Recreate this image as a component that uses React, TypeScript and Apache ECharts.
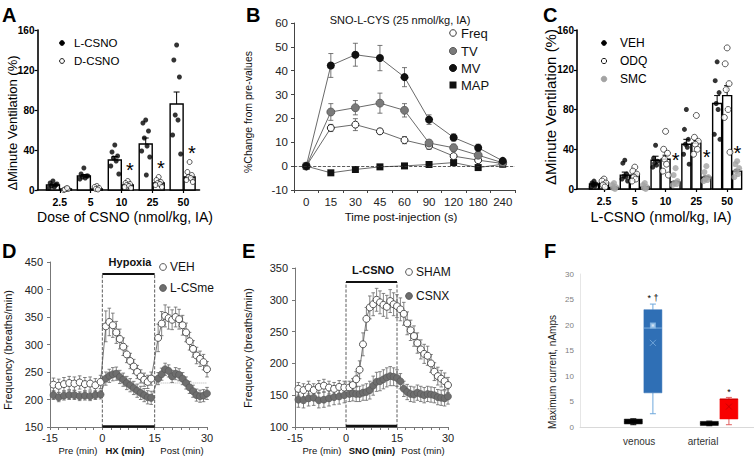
import React, { useEffect, useRef } from 'react';
import * as echarts from 'echarts';

const FONT = '"Liberation Sans", Arial, Helvetica, sans-serif';

// ---------- Panel A ----------
const doseLabels = ['2.5', '5', '10', '25', '50'];
const aLMean = [5, 14, 30, 46, 86];
const aLErr = [1, 1.5, 3.5, 6, 12];
const aDMean = [1, 1, 5, 7, 13];
const aDErr = [0.3, 0.5, 1, 1.2, 2];
const aLPts = [
  [9, 7, 5, 4, 3, 2, 6],
  [22, 16, 14, 13, 12, 11, 14],
  [45, 38, 34, 32, 29, 24, 16],
  [70, 67, 59, 52, 44, 39, 33, 15],
  [145, 130, 113, 75, 70, 55, 36],
];
const aDPts = [
  [1, 0, 1, 0.5, 2],
  [4, 3, 2, 1, 0.5],
  [9, 7, 6, 5, 4, 3, 2],
  [13, 10, 8, 7, 6, 5, 3],
  [28, 18, 15, 13, 12, 10, 8],
];
const aStar = [null, null, 25, 27, 42];

// ---------- Panel B ----------
const bTimes = ['0', '15', '30', '45', '60', '90', '120', '180', '240'];
const bFreq = [0, 16, 17.4, 14.6, 10.9, 8.5, 4.2, 2.5, 1.1];
const bFreqErr = [0, 1.5, 2.5, 1, 1.5, 1.5, 1, 0.5, 0.5];
const bTV = [0, 22.7, 24.5, 26.4, 23.4, 9.7, 7.7, 4.6, 1.4];
const bTVErr = [0, 3.5, 3, 4.2, 2.8, 1, 1.5, 1, 0.5];
const bMV = [0, 42.2, 46.7, 45.3, 37.3, 19.5, 12, 7.7, 2.2];
const bMVErr = [0, 5, 4.8, 5.3, 4, 2, 1.5, 1.5, 1];
const bMAP = [0, -2.8, -1.4, -0.3, 0.1, 0.7, 1.5, -0.6, 0.8];

// ---------- Panel C ----------
const cVehMean = [5, 14, 29, 45, 86];
const cVehErr = [1, 3, 4, 5, 8];
const cOdqMean = [6, 14, 30, 46, 94];
const cOdqErr = [1.5, 2, 4, 3, 10];
const cSmcMean = [1.5, 2, 7, 12, 18];
const cSmcErr = [0.5, 0.5, 1, 1, 1.5];
const cVehPts = [
  [8, 6, 5, 4, 3, 2],
  [29, 26, 15, 13, 12, 10, 8],
  [44, 31, 28, 26, 24, 22],
  [80, 60, 50, 45, 42, 35, 25],
  [128, 109, 97, 86, 80, 55, 50],
];
const cOdqPts = [
  [10, 8, 6, 4, 2],
  [22, 18, 15, 12, 10, 8],
  [58, 40, 36, 30, 25, 18, 14],
  [74, 52, 48, 45, 40, 35],
  [142, 126, 106, 100, 80, 72, 37],
];
const cSmcPts = [
  [6, 4, 2, 1, 0],
  [6, 4, 2, 1, 0],
  [21, 14, 8, 6, 5, 4],
  [23, 17, 12, 10, 9, 8],
  [28, 25, 21, 18, 15, 12],
];
const cStar = [null, null, 34, 37, 41];

// ---------- Panel D ----------
const dTimes = [
  -14, -12.5, -11, -9.5, -8, -6.5, -5, -3.5, -2, -0.5,
  1, 2, 3, 4, 5, 6, 7, 8, 9, 10, 11, 12, 13, 14,
  16, 17, 18, 19, 20, 21, 22, 23, 24, 25, 26, 27, 28, 29, 30,
];
const dVeh = [
  227, 225, 228, 230, 229, 231, 228, 229, 226, 232,
  333, 341, 335, 322, 310, 296, 282, 270, 260, 250, 242, 236, 232, 238,
  312, 338, 352, 348, 345, 350, 346, 335, 322, 306, 292, 280, 274, 268, 255,
];
const dVehErr = [
  12, 12, 12, 12, 12, 12, 12, 12, 12, 12,
  28, 25, 22, 20, 18, 16, 15, 14, 13, 12, 12, 12, 12, 12,
  25, 22, 20, 20, 18, 18, 18, 18, 17, 16, 15, 15, 14, 14, 14,
];
const dLcs = [
  208, 204, 207, 208, 208, 206, 207, 206, 208, 209,
  238, 243, 246, 247, 241, 236, 230, 226, 221, 216, 212, 208, 204, 203,
  238, 246, 255, 252, 242, 247, 245, 238, 230, 222, 215, 208, 206, 207, 211,
];
const dLcsErr = [
  8, 8, 8, 8, 8, 8, 8, 8, 8, 8,
  12, 12, 12, 12, 12, 12, 12, 12, 12, 12, 12, 12, 12, 12,
  11, 11, 11, 11, 11, 11, 11, 11, 11, 11, 11, 11, 11, 11, 11,
];
const dBoxTop = 428;
const dBase = 230;

// ---------- Panel E ----------
const eTimes = [
  -14, -12.5, -11, -9.5, -8, -6.5, -5, -3.5, -2, -0.5,
  1, 2, 3, 4, 5, 6, 7, 8, 9, 10, 11, 12, 13, 14, 15,
  16, 17, 18, 19, 20, 21, 22, 23, 24, 25, 26, 27, 28, 29, 30,
];
const eSham = [
  160, 158, 162, 158, 163, 165, 162, 160, 163, 162,
  162, 166, 175, 190, 230, 270, 288, 293, 300, 296, 292, 289, 298, 293, 290,
  285, 278, 263, 252, 243, 232, 222, 215, 212, 200, 187, 180, 176, 172, 166,
];
const eShamErr = [
  10, 10, 10, 10, 10, 10, 10, 10, 10, 10,
  10, 10, 12, 14, 18, 18, 18, 18, 18, 18, 18, 18, 18, 18, 18,
  18, 18, 18, 16, 16, 16, 15, 15, 15, 14, 14, 14, 13, 13, 12,
];
const eCsnx = [
  143, 142, 145, 146, 142, 143, 145, 147, 148, 150,
  152, 153, 152, 152, 154, 155, 158, 165, 171, 172, 175, 178, 180, 179, 177,
  172, 160, 155, 152, 151, 154, 152, 150, 152, 151, 150, 147, 146, 145, 148,
];
const eCsnxErr = [
  12, 12, 12, 12, 12, 12, 12, 12, 12, 12,
  12, 12, 12, 12, 12, 13, 14, 15, 15, 15, 15, 15, 15, 14, 13,
  12, 12, 12, 12, 12, 12, 12, 12, 12, 12, 12, 12, 12, 12, 12,
];
const eBoxTop = 328;

// ---------- Panel F ----------
const fGroups = ['venous', 'arterial'];
// [min, q1, median, q3, max]
const fControl = [
  [0.45, 0.6, 1.0, 1.55, 1.6],
  [0.25, 0.3, 0.7, 1.1, 1.15],
];
const fVenous = [2.6, 6.7, 19.4, 23.0, 24.1];
const fVenousMean = 16.5;
const fVenousPoint = 19.9;
const fArterial = [0.45, 1.57, 5.45, 5.5, 5.8];
const fArterialMean = 4.0;
const fMarks = ['* \u2020', '*'];
const fMarkY = [25.4, 7.0];

// ---------- helpers ----------
const jit = [0, -0.09, 0.09, -0.045, 0.045, -0.13, 0.13, 0.02];
function scatterData(groups: number[][], offset: number, spread: number) {
  const out: number[][] = [];
  groups.forEach((vals, i) =>
    vals.forEach((v, j) => out.push([i + offset + jit[j % jit.length] * spread, v]))
  );
  return out;
}

function barSeries(ax: number, means: number[], errs: number[], offset: number, width: number) {
  return {
    type: 'custom',
    xAxisIndex: ax,
    yAxisIndex: ax,
    z: 2,
    silent: true,
    encode: { x: 0, y: 1 },
    data: means.map((m, i) => [i + offset, m, errs[i]]),
    renderItem: (params: any, api: any) => {
      const x = api.value(0);
      const m = api.value(1);
      const e = api.value(2);
      const p0 = api.coord([x, 0]);
      const p1 = api.coord([x, m]);
      const pe = api.coord([x, m + e]);
      return {
        type: 'group',
        children: [
          {
            type: 'rect',
            shape: { x: p0[0] - width / 2, y: p1[1], width, height: p0[1] - p1[1] },
            style: { fill: '#fff', stroke: '#000', lineWidth: 1.4 },
          },
          { type: 'line', shape: { x1: p1[0], y1: p1[1], x2: pe[0], y2: pe[1] }, style: { stroke: '#000', lineWidth: 1 } },
          { type: 'line', shape: { x1: pe[0] - 3, y1: pe[1], x2: pe[0] + 3, y2: pe[1] }, style: { stroke: '#000', lineWidth: 1 } },
        ],
      };
    },
  };
}

function errSeries(ax: number, xs: number[], vals: number[], errs: number[], color: string, cap: number) {
  const data: number[][] = [];
  vals.forEach((v, i) => {
    if (errs[i] > 0) data.push([xs[i], v - errs[i], v + errs[i]]);
  });
  return {
    type: 'custom',
    xAxisIndex: ax,
    yAxisIndex: ax,
    z: 2,
    silent: true,
    encode: { x: 0, y: [1, 2] },
    data,
    renderItem: (params: any, api: any) => {
      const x = api.value(0);
      const a = api.coord([x, api.value(1)]);
      const b = api.coord([x, api.value(2)]);
      const st = { stroke: color, lineWidth: 0.8 };
      return {
        type: 'group',
        children: [
          { type: 'line', shape: { x1: a[0], y1: a[1], x2: b[0], y2: b[1] }, style: st },
          { type: 'line', shape: { x1: a[0] - cap, y1: a[1], x2: a[0] + cap, y2: a[1] }, style: st },
          { type: 'line', shape: { x1: b[0] - cap, y1: b[1], x2: b[0] + cap, y2: b[1] }, style: st },
        ],
      };
    },
  };
}

function boxSeries(data: number[][], fill: string, line: string, med: string, width: number) {
  return {
    type: 'custom',
    xAxisIndex: 5,
    yAxisIndex: 5,
    z: 2,
    silent: true,
    encode: { x: 0, y: [1, 5] },
    data,
    renderItem: (params: any, api: any) => {
      const x = api.value(0);
      const pMin = api.coord([x, api.value(1)]);
      const pQ1 = api.coord([x, api.value(2)]);
      const pMed = api.coord([x, api.value(3)]);
      const pQ3 = api.coord([x, api.value(4)]);
      const pMax = api.coord([x, api.value(5)]);
      const mean = api.value(6);
      const cx = pMin[0];
      const ws = { stroke: line, lineWidth: 1 };
      const children: any[] = [
        { type: 'line', shape: { x1: cx, y1: pMin[1], x2: cx, y2: pQ1[1] }, style: ws },
        { type: 'line', shape: { x1: cx, y1: pQ3[1], x2: cx, y2: pMax[1] }, style: ws },
        { type: 'line', shape: { x1: cx - 3, y1: pMin[1], x2: cx + 3, y2: pMin[1] }, style: ws },
        { type: 'line', shape: { x1: cx - 3, y1: pMax[1], x2: cx + 3, y2: pMax[1] }, style: ws },
        {
          type: 'rect',
          shape: { x: cx - width / 2, y: pQ3[1], width, height: pQ1[1] - pQ3[1] },
          style: { fill, stroke: fill, lineWidth: 0.5 },
        },
        { type: 'line', shape: { x1: cx - width / 2, y1: pMed[1], x2: cx + width / 2, y2: pMed[1] }, style: { stroke: med, lineWidth: 1 } },
      ];
      if (mean > 0) {
        const pm = api.coord([x, mean]);
        children.push(
          { type: 'line', shape: { x1: pm[0] - 3, y1: pm[1] - 3, x2: pm[0] + 3, y2: pm[1] + 3 }, style: { stroke: med, lineWidth: 0.8 } },
          { type: 'line', shape: { x1: pm[0] - 3, y1: pm[1] + 3, x2: pm[0] + 3, y2: pm[1] - 3 }, style: { stroke: med, lineWidth: 0.8 } }
        );
      }
      return { type: 'group', children };
    },
  };
}

function segSeries(ax: number, pts: number[][], color: string, width: number, type: string) {
  return {
    type: 'line',
    xAxisIndex: ax,
    yAxisIndex: ax,
    data: pts,
    symbol: 'none',
    silent: true,
    z: 1,
    lineStyle: { color, width, type },
  };
}

// text marks placed through the axes (asterisks etc.)
function textSeries(ax: number, data: any[], size: number, dy: number) {
  return {
    type: 'custom',
    xAxisIndex: ax,
    yAxisIndex: ax,
    z: 5,
    silent: true,
    encode: { x: 0, y: 1 },
    data,
    renderItem: (params: any, api: any) => {
      const p = api.coord([api.value(0), api.value(1)]);
      const item = data[params.dataIndex];
      return {
        type: 'text',
        x: p[0],
        y: p[1] + dy,
        style: {
          text: item[2],
          fontSize: size,
          fontFamily: FONT,
          fill: '#000',
          align: 'center',
          verticalAlign: 'middle',
        },
      };
    },
  };
}

function txt(x: number, y: number, text: string, size: number, opts: any = {}) {
  return {
    type: 'text',
    x,
    y,
    rotation: opts.rot || 0,
    silent: true,
    style: {
      text,
      fontSize: size,
      fontFamily: FONT,
      fontWeight: opts.bold ? 'bold' : 'normal',
      fill: opts.color || '#111',
      align: opts.align || 'center',
      verticalAlign: opts.va || 'middle',
    },
  };
}
function dot(x: number, y: number, r: number, fill: string, stroke: string) {
  return { type: 'circle', silent: true, shape: { cx: x, cy: y, r }, style: { fill, stroke, lineWidth: 0.9 } };
}

const noSplit = { show: false };

function catAxis(grid: number, min: number, max: number, labels: string[]) {
  const vals = labels.map((_, i) => i);
  return {
    gridIndex: grid,
    type: 'value',
    min,
    max,
    axisLine: { show: true, onZero: false, lineStyle: { color: '#000', width: 1.6 } },
    axisTick: { show: true, customValues: vals, length: 3, lineStyle: { color: '#000', width: 1.2 } },
    axisLabel: {
      customValues: vals,
      formatter: (v: number) => labels[Math.round(v)],
      fontWeight: 'bold',
      fontSize: 10.5,
      color: '#000',
      margin: 6,
      fontFamily: FONT,
    },
    splitLine: noSplit,
  };
}
function ventAxis(grid: number) {
  return {
    gridIndex: grid,
    type: 'value',
    min: 0,
    max: 160,
    interval: 40,
    axisLine: { show: true, onZero: false, lineStyle: { color: '#000', width: 1.6 } },
    axisTick: { show: true, length: 3, lineStyle: { color: '#000', width: 1.2 } },
    axisLabel: { fontWeight: 'bold', fontSize: 10, color: '#000', margin: 3, fontFamily: FONT },
    splitLine: noSplit,
  };
}
function timeAxis(grid: number) {
  return {
    gridIndex: grid,
    type: 'value',
    min: -15,
    max: 30,
    interval: 15,
    axisLine: { show: true, onZero: false, lineStyle: { color: '#777', width: 1 } },
    axisTick: { show: true, length: 3, lineStyle: { color: '#777' } },
    minorTick: { show: true, splitNumber: 6, length: 3, lineStyle: { color: '#777' } },
    axisLabel: { fontSize: 11, color: '#222', margin: 5, fontFamily: FONT },
    splitLine: noSplit,
  };
}
function freqAxis(grid: number, min: number, max: number) {
  return {
    gridIndex: grid,
    type: 'value',
    min,
    max,
    interval: 50,
    axisLine: { show: true, onZero: false, lineStyle: { color: '#777', width: 1 } },
    axisTick: { show: true, length: 3, lineStyle: { color: '#777' } },
    axisLabel: { fontSize: 11, color: '#222', margin: 7, fontFamily: FONT },
    splitLine: noSplit,
  };
}

function pairs(xs: number[], ys: number[]) {
  return ys.map((y, i) => [xs[i], y]);
}
function starData(vals: (number | null)[], offset: number) {
  const out: any[] = [];
  vals.forEach((v, i) => {
    if (v != null) out.push([i + offset, v, '*']);
  });
  return out;
}

function buildOption() {
  const openSym = { color: '#fff', borderColor: '#444', borderWidth: 0.9 };
  const graySym = { color: '#6e6e6e', borderColor: '#555', borderWidth: 0.6 };
  const idx = bTimes.map((_, i) => i);

  const series: any[] = [
    // ---- A ----
    barSeries(0, aLMean, aLErr, -0.22, 13),
    barSeries(0, aDMean, aDErr, 0.2, 11),
    { type: 'scatter', xAxisIndex: 0, yAxisIndex: 0, z: 3, silent: true, symbolSize: 5, itemStyle: { color: '#000' }, data: scatterData(aLPts, -0.22, 1) },
    { type: 'scatter', xAxisIndex: 0, yAxisIndex: 0, z: 3, silent: true, symbolSize: 5, itemStyle: { color: '#fff', borderColor: '#000', borderWidth: 0.8 }, data: scatterData(aDPts, 0.2, 0.8) },
    textSeries(0, starData(aStar, 0.27), 20, 5),

    // ---- B ----
    errSeries(1, idx, bMV, bMVErr, '#555', 2.5),
    errSeries(1, idx, bTV, bTVErr, '#555', 2.5),
    errSeries(1, idx, bFreq, bFreqErr, '#555', 2.5),
    {
      type: 'line', xAxisIndex: 1, yAxisIndex: 1, z: 3, silent: true, data: bMAP, symbol: 'rect', symbolSize: 7,
      itemStyle: { color: '#111' }, lineStyle: { color: '#444', width: 0.8 },
      markLine: { silent: true, symbol: 'none', label: { show: false }, lineStyle: { type: 'dashed', color: '#333', width: 0.8 }, data: [{ yAxis: 0 }] },
    },
    { type: 'line', xAxisIndex: 1, yAxisIndex: 1, z: 3, silent: true, data: bFreq, symbol: 'circle', symbolSize: 7, itemStyle: { color: '#fff', borderColor: '#222', borderWidth: 1 }, lineStyle: { color: '#444', width: 0.8 } },
    { type: 'line', xAxisIndex: 1, yAxisIndex: 1, z: 3, silent: true, data: bTV, symbol: 'circle', symbolSize: 8, itemStyle: { color: '#7a7a7a', borderColor: '#555', borderWidth: 0.8 }, lineStyle: { color: '#444', width: 0.8 } },
    { type: 'line', xAxisIndex: 1, yAxisIndex: 1, z: 3, silent: true, data: bMV, symbol: 'circle', symbolSize: 8, itemStyle: { color: '#111' }, lineStyle: { color: '#444', width: 0.8 } },

    // ---- C ----
    barSeries(2, cVehMean, cVehErr, -0.325, 9),
    barSeries(2, cOdqMean, cOdqErr, 0, 9),
    barSeries(2, cSmcMean, cSmcErr, 0.325, 9),
    { type: 'scatter', xAxisIndex: 2, yAxisIndex: 2, z: 3, silent: true, symbolSize: 5, itemStyle: { color: '#000' }, data: scatterData(cVehPts, -0.325, 0.7) },
    { type: 'scatter', xAxisIndex: 2, yAxisIndex: 2, z: 3, silent: true, symbolSize: 6, itemStyle: { color: '#fff', borderColor: '#000', borderWidth: 0.8 }, data: scatterData(cOdqPts, 0, 0.7) },
    { type: 'scatter', xAxisIndex: 2, yAxisIndex: 2, z: 3, silent: true, symbolSize: 6, itemStyle: { color: '#a3a3a3' }, data: scatterData(cSmcPts, 0.325, 0.7) },
    textSeries(2, starData(cStar, 0.33), 20, 5),

    // ---- D ----
    segSeries(3, [[15, dBase], [30, dBase]], '#b0b0b0', 1, 'dotted'),
    segSeries(3, [[0, 150], [0, dBoxTop]], '#333', 0.8, 'dashed'),
    segSeries(3, [[15, 150], [15, dBoxTop]], '#333', 0.8, 'dashed'),
    segSeries(3, [[0, dBoxTop], [15, dBoxTop]], '#111', 2, 'solid'),
    segSeries(3, [[0, 151], [15, 151]], '#111', 2.5, 'solid'),
    errSeries(3, dTimes, dVeh, dVehErr, '#666', 1.8),
    { type: 'line', xAxisIndex: 3, yAxisIndex: 3, z: 3, silent: true, data: pairs(dTimes, dVeh), symbol: 'circle', symbolSize: 7, itemStyle: openSym, lineStyle: { color: '#555', width: 0.8 } },
    errSeries(3, dTimes, dLcs, dLcsErr, '#666', 1.8),
    { type: 'line', xAxisIndex: 3, yAxisIndex: 3, z: 3, silent: true, data: pairs(dTimes, dLcs), symbol: 'circle', symbolSize: 7, itemStyle: graySym, lineStyle: { color: '#555', width: 0.8 } },

    // ---- E ----
    segSeries(4, [[0, 100], [0, eBoxTop]], '#333', 0.8, 'dashed'),
    segSeries(4, [[15, 100], [15, eBoxTop]], '#333', 0.8, 'dashed'),
    segSeries(4, [[0, eBoxTop], [15, eBoxTop]], '#111', 2, 'solid'),
    segSeries(4, [[0, 101.5], [15, 101.5]], '#111', 2.5, 'solid'),
    errSeries(4, eTimes, eSham, eShamErr, '#666', 1.8),
    { type: 'line', xAxisIndex: 4, yAxisIndex: 4, z: 3, silent: true, data: pairs(eTimes, eSham), symbol: 'circle', symbolSize: 7, itemStyle: openSym, lineStyle: { color: '#555', width: 0.8 } },
    errSeries(4, eTimes, eCsnx, eCsnxErr, '#666', 1.8),
    { type: 'line', xAxisIndex: 4, yAxisIndex: 4, z: 3, silent: true, data: pairs(eTimes, eCsnx), symbol: 'circle', symbolSize: 7, itemStyle: graySym, lineStyle: { color: '#555', width: 0.8 } },

    // ---- F ----
    boxSeries(fControl.map((b, i) => [i - 0.128, ...b, 0]), '#000', '#000', '#000', 18),
    boxSeries([[0.13, ...fVenous, fVenousMean]], '#2f6fb5', '#6fa8dc', '#7fb0e0', 18),
    boxSeries([[1.13, ...fArterial, fArterialMean]], '#f80000', '#e06060', '#c00000', 18),
    { type: 'scatter', xAxisIndex: 5, yAxisIndex: 5, z: 3, silent: true, symbol: 'emptyRect', symbolSize: 4, itemStyle: { color: '#8fbde6', borderColor: '#8fbde6' }, data: [[0.13, fVenousPoint]] },
    textSeries(5, fMarkY.map((y, i) => [i + 0.13, y, fMarks[i]]), 9, 1),
  ];

  const graphic: any[] = [
    // panel letters
    txt(2, 5, 'A', 20, { bold: true, align: 'left', va: 'top', color: '#000' }),
    txt(246, 5, 'B', 20, { bold: true, align: 'left', va: 'top', color: '#000' }),
    txt(543, 5, 'C', 20, { bold: true, align: 'left', va: 'top', color: '#000' }),
    txt(2, 241, 'D', 20, { bold: true, align: 'left', va: 'top', color: '#000' }),
    txt(242, 241, 'E', 20, { bold: true, align: 'left', va: 'top', color: '#000' }),
    txt(544, 241, 'F', 20, { bold: true, align: 'left', va: 'top', color: '#000' }),

    // A texts
    txt(12, 123, '\u0394Minute Ventilation (%)', 13, { rot: Math.PI / 2, color: '#000' }),
    txt(125, 217, 'Dose of CSNO (nmol/kg, IA)', 14, { color: '#000' }),
    dot(62, 43, 2.4, '#000', '#000'),
    txt(74, 43, 'L-CSNO', 11.5, { align: 'left', color: '#000' }),
    dot(62, 61, 2.4, '#fff', '#000'),
    txt(74, 61, 'D-CSNO', 11.5, { align: 'left', color: '#000' }),

    // B texts
    txt(400, 20, 'SNO-L-CYS (25 nmol/kg, IA)', 11, { color: '#111' }),
    txt(248, 112, '%Change from pre-values', 10.5, { rot: Math.PI / 2, color: '#111' }),
    txt(401, 217, 'Time post-injection (s)', 11.5, { color: '#111' }),
    dot(453, 33, 3.3, '#fff', '#222'),
    txt(461, 33, 'Freq', 13, { align: 'left' }),
    dot(453, 51, 3.6, '#7a7a7a', '#555'),
    txt(461, 51, 'TV', 13, { align: 'left' }),
    dot(453, 68, 3.6, '#111', '#111'),
    txt(461, 68, 'MV', 13, { align: 'left' }),
    { type: 'rect', silent: true, shape: { x: 449.5, y: 81.5, width: 7, height: 7 }, style: { fill: '#111' } },
    txt(461, 85, 'MAP', 13, { align: 'left' }),

    // C texts
    txt(550, 107, '\u0394Minute Ventilation (%)', 15, { rot: Math.PI / 2, color: '#000' }),
    txt(661, 217, 'L-CSNO (nmol/kg, IA)', 14.5, { color: '#000' }),
    dot(604, 43, 2.4, '#000', '#000'),
    txt(620, 43, 'VEH', 12, { align: 'left', color: '#000' }),
    dot(604, 61, 2.6, '#fff', '#000'),
    txt(620, 61, 'ODQ', 12, { align: 'left', color: '#000' }),
    dot(604, 79, 2.8, '#a3a3a3', '#a3a3a3'),
    txt(620, 79, 'SMC', 12, { align: 'left', color: '#000' }),

    // D texts
    txt(8, 350, 'Frequency (breaths/min)', 11, { rot: Math.PI / 2 }),
    txt(130, 262, 'Hypoxia', 11, { bold: true }),
    dot(163, 267, 3.4, '#fff', '#444'),
    txt(170, 267, 'VEH', 12, { align: 'left' }),
    dot(163, 288, 3.4, '#6e6e6e', '#555'),
    txt(170, 288, 'L-CSme', 12, { align: 'left' }),
    txt(78, 450, 'Pre (min)', 9.5),
    txt(125, 450, 'HX (min)', 9.5, { bold: true }),
    txt(182, 450, 'Post (min)', 9.5),

    // E texts
    txt(248, 348, 'Frequency (breaths/min)', 11, { rot: Math.PI / 2 }),
    txt(373, 270, 'L-CSNO', 11, { bold: true }),
    dot(409, 272, 3.4, '#fff', '#444'),
    txt(416, 272, 'SHAM', 12, { align: 'left' }),
    dot(409, 296, 3.4, '#6e6e6e', '#555'),
    txt(416, 296, 'CSNX', 12, { align: 'left' }),
    txt(322, 450, 'Pre (min)', 9.5),
    txt(372, 450, 'SNO (min)', 9.5, { bold: true }),
    txt(423, 450, 'Post (min)', 9.5),

    // F texts
    txt(552, 372, 'Maximum current, nAmps', 10, { rot: Math.PI / 2, color: '#222' }),
  ];

  return {
    animation: false,
    backgroundColor: '#fff',
    textStyle: { fontFamily: FONT },
    grid: [
      { left: 37.5, top: 30, width: 162, height: 160 },
      { left: 294, top: 23, width: 221, height: 167 },
      { left: 577, top: 30, width: 164, height: 159 },
      { left: 50, top: 262, width: 157, height: 165 },
      { left: 295, top: 268, width: 153, height: 159 },
      { left: 580, top: 274, width: 174, height: 153 },
    ],
    xAxis: [
      catAxis(0, -0.72, 4.52, doseLabels),
      {
        gridIndex: 1,
        type: 'category',
        data: bTimes,
        boundaryGap: true,
        axisLine: { show: true, onZero: false, lineStyle: { color: '#444', width: 1 } },
        axisTick: { show: true, length: 3, interval: 0, lineStyle: { color: '#444' } },
        axisLabel: { fontSize: 11.5, color: '#222', margin: 6, interval: 0, fontFamily: FONT },
        splitLine: noSplit,
      },
      catAxis(2, -0.877, 4.45, doseLabels),
      timeAxis(3),
      timeAxis(4),
      {
        gridIndex: 5,
        type: 'value',
        min: -0.829,
        max: 1.46,
        axisLine: { show: true, onZero: false, lineStyle: { color: '#d9d9d9', width: 1 } },
        axisTick: { show: false },
        axisLabel: {
          customValues: [-0.05, 0.79],
          formatter: (v: number) => (v < 0.4 ? fGroups[0] : fGroups[1]),
          fontSize: 10,
          color: '#333',
          margin: 9,
          fontFamily: FONT,
        },
        splitLine: noSplit,
      },
    ],
    yAxis: [
      ventAxis(0),
      {
        gridIndex: 1,
        type: 'value',
        min: -10,
        max: 60,
        interval: 10,
        axisLine: { show: true, onZero: false, lineStyle: { color: '#444', width: 1 } },
        axisTick: { show: true, length: 3, lineStyle: { color: '#444' } },
        axisLabel: { fontSize: 11.5, color: '#222', margin: 6, fontFamily: FONT },
        splitLine: noSplit,
      },
      ventAxis(2),
      freqAxis(3, 150, 450),
      freqAxis(4, 100, 350),
      {
        gridIndex: 5,
        type: 'value',
        min: 0,
        max: 30,
        interval: 5,
        axisLine: { show: true, onZero: false, lineStyle: { color: '#e6e6e6', width: 1 } },
        axisTick: { show: false },
        axisLabel: { fontSize: 8, color: '#808080', margin: 6, fontFamily: FONT },
        splitLine: noSplit,
      },
    ],
    series,
    graphic,
  };
}

export default function App() {
  const ref = useRef<HTMLDivElement>(null);
  useEffect(() => {
    const chart = echarts.init(ref.current!, null, { renderer: 'svg' });
    chart.setOption(buildOption() as any);
    return () => chart.dispose();
  }, []);
  return (
    <div
      ref={ref}
      style={{ position: 'absolute', left: 0, top: 0, width: 754, height: 457, background: '#fff' }}
    />
  );
}
